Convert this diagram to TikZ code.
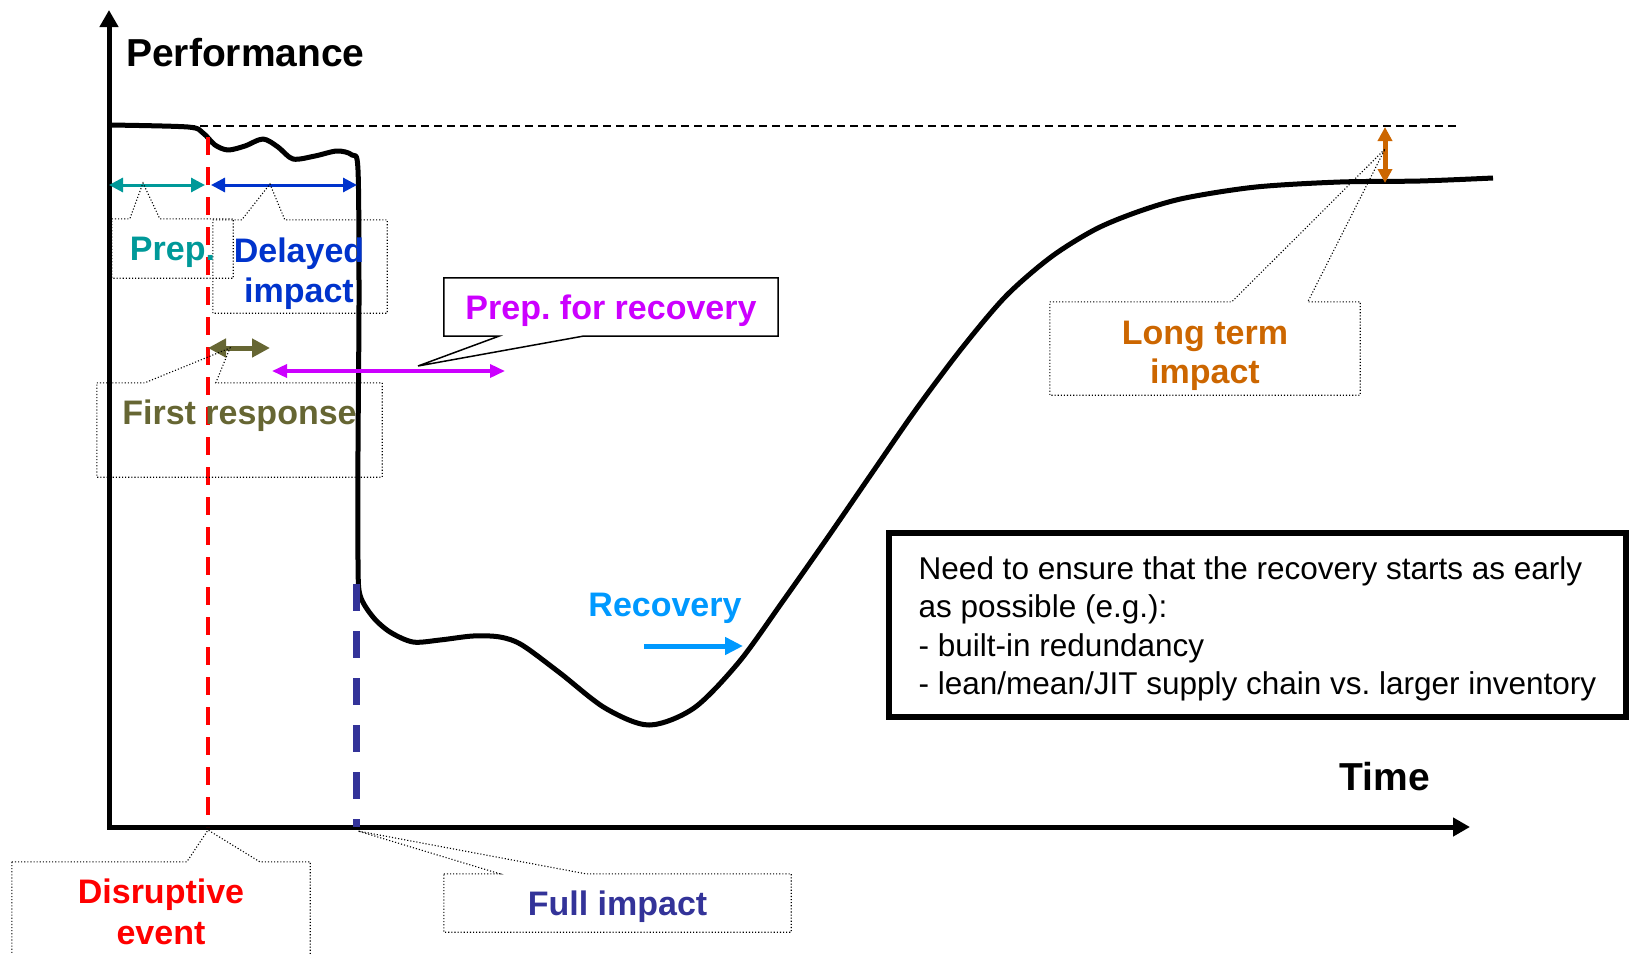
\documentclass[tikz,border=0pt]{standalone}
\usepackage{fontspec}
\setmainfont{Liberation Sans}
\usetikzlibrary{arrows.meta,calc}
\frenchspacing

\definecolor{prepcol}{HTML}{009999}
\definecolor{delaycol}{HTML}{0033CC}
\definecolor{firstcol}{HTML}{666633}
\definecolor{recprepcol}{HTML}{CC00FF}
\definecolor{reccol}{HTML}{0099FF}
\definecolor{longcol}{HTML}{CC6600}
\definecolor{fullcol}{HTML}{333399}
\definecolor{disrcol}{HTML}{FF0000}

% dotted frame with a pointer leaving its top side
\newcommand{\calloutup}[4]{%
  \draw[callout] (#1.north west) -- ++(#2,0) -- (#4) -- ($(#1.north west)+(#3,0)$)
    -- (#1.north east) -- (#1.south east) -- (#1.south west) -- cycle;}

\begin{document}
\begin{tikzpicture}[x=1pt,y=-1pt,>={Triangle[length=14,width=14]},
    axis/.style={line width=5,{Triangle[length=17,width=18]}-{Triangle[length=17,width=18]}},
    perf/.style={line width=5,line join=round},
    span/.style={<->,line width=3},
    frame/.style={inner sep=0,minimum width=#1},
    tag/.style={font=\bfseries\fontsize{34}{40}\selectfont,align=center,inner sep=0,yshift=-4},
    title/.style={font=\bfseries\fontsize{39}{44}\selectfont,inner sep=0},
    callout/.style={dotted,line width=1.1}]
  \clip (0,0) rectangle (1629,953);
  \useasboundingbox (0,0) rectangle (1629,953);

  % axes
  \coordinate (ytop) at (109,10);
  \coordinate (o)    at (109,827);
  \coordinate (xend) at (1470,827);
  \draw[axis] (ytop) -- (o) -- (xend);
  \node[title,anchor=west] (perfl) at (126,53) {Performance};
  \node[title] (timel) at (1385,777) {Time};

  % reference level
  \coordinate (ref0) at (109,126);
  \coordinate (ref1) at (1458,126);
  \draw[dash pattern=on 8 off 5,line width=1.2] (ref0) -- (ref1);

  % performance curve
  \draw[perf] plot[smooth,tension=0.5] coordinates {
    (109,125) (188,127) (203,133) (215,145) (228,150) (245,146) (263,139)
    (278,147) (293,159) (315,156) (337,151) (352,155) (358,170) (359,300)
    (358,450) (358,560) (360,595) (373,617) (390,632) (413,642) (440,640)
    (473,636) (500,637) (522,645) (560,673) (605,708) (649,725) (694,708)
    (739,662) (783,601) (828,537) (872,473) (917,408) (962,348) (1006,296)
    (1051,257) (1096,229) (1140,211) (1185,198) (1256,187) (1340,182)
    (1420,181) (1493,178)};

  % event lines
  \coordinate (ev0) at (208,137);
  \coordinate (ev1) at (208,827);
  \draw[disrcol,line width=4,dash pattern=on 18 off 12] (ev0) -- (ev1);
  \coordinate (fi0) at (356,584);
  \coordinate (fi1) at (356,827);
  \draw[fullcol,line width=7,dash pattern=on 27 off 20] (fi0) -- (fi1);

  % phase arrows
  \coordinate (pa) at (109,185);
  \coordinate (pb) at (205,185);
  \coordinate (da) at (211,185);
  \coordinate (db) at (357,185);
  \draw[span,prepcol] (pa) -- (pb);
  \draw[span,delaycol] (da) -- (db);
  \coordinate (fa) at (208,348);
  \coordinate (fb) at (270,348);
  \draw[firstcol,line width=5,{Triangle[length=18,width=18]}-{Triangle[length=18,width=18]}] (fa) -- (fb);
  \coordinate (ra) at (272,371);
  \coordinate (rb) at (505,371);
  \draw[recprepcol,line width=3.5,{Triangle[length=15,width=13]}-{Triangle[length=15,width=13]}] (ra) -- (rb);
  \coordinate (ca) at (644,646);
  \coordinate (cb) at (743,646);
  \draw[reccol,line width=5,-{Triangle[length=18,width=17]}] (ca) -- (cb);
  \coordinate (la) at (1385,127);
  \coordinate (lb) at (1385,183);
  \draw[longcol,line width=5,{Triangle[length=14,width=14]}-{Triangle[length=14,width=14]}] (la) -- (lb);

  % callouts
  \node[frame=121,minimum height=59] (prepbox) at (172.5,248.5) {};
  \calloutup{prepbox}{18}{48}{143,183}
  \node[frame=174,minimum height=93] (delbox) at (300,266.5) {};
  \calloutup{delbox}{29}{72}{270,184}
  \node[frame=285,minimum height=94] (frbox) at (239.5,430) {};
  \calloutup{frbox}{48}{119}{230,348}
  \node[frame=310,minimum height=93] (ltbox) at (1205,348.5) {};
  \calloutup{ltbox}{182}{258}{1385,149}
  \node[frame=298,minimum height=98] (disbox) at (161,911) {};
  \calloutup{disbox}{175}{248}{208,830}
  \node[frame=347,minimum height=58] (fullbox) at (617.5,903) {};
  \calloutup{fullbox}{56}{142}{358,831}
  \node[frame=334,minimum height=58] (recbox) at (611,307) {};
  \draw[line width=1.5] (recbox.south west) -- ++(55,0) -- (418,366)
    -- ($(recbox.south west)+(139,0)$) -- (recbox.south east)
    -- (recbox.north east) -- (recbox.north west) -- cycle;

  % labels
  \node[tag,prepcol] (prepl) at (prepbox) {Prep.};
  \node[tag,delaycol] (dell) at (299,270) {Delayed\\impact};
  \node[tag,firstcol] (frl) at ($(frbox.north)+(0,29)$) {First response};
  \node[tag,recprepcol] (recpl) at (recbox) {Prep. for recovery};
  \node[tag,reccol] (recl) at (665,604) {Recovery};
  \node[tag,longcol,font=\bfseries\fontsize{34}{39}\selectfont] (ltl) at (1205,352) {Long term\\impact};
  \node[tag,disrcol,font=\bfseries\fontsize{34}{41}\selectfont] (disl) at (161,908) {Disruptive\\event};
  \node[tag,fullcol] (fulll) at (fullbox) {Full impact};

  % note
  \node[draw,line width=6,minimum width=737,minimum height=184,inner sep=0] (notebox) at (1257.5,625) {};
  \node[inner sep=0,align=left,yshift=-4,font=\fontsize{31.5}{38.5}\selectfont] (note) at (notebox)
    {Need to ensure that the recovery starts as early\\as possible (e.g.):\\- built-in redundancy\\- lean/mean/JIT supply chain vs. larger inventory};
\end{tikzpicture}
\end{document}
